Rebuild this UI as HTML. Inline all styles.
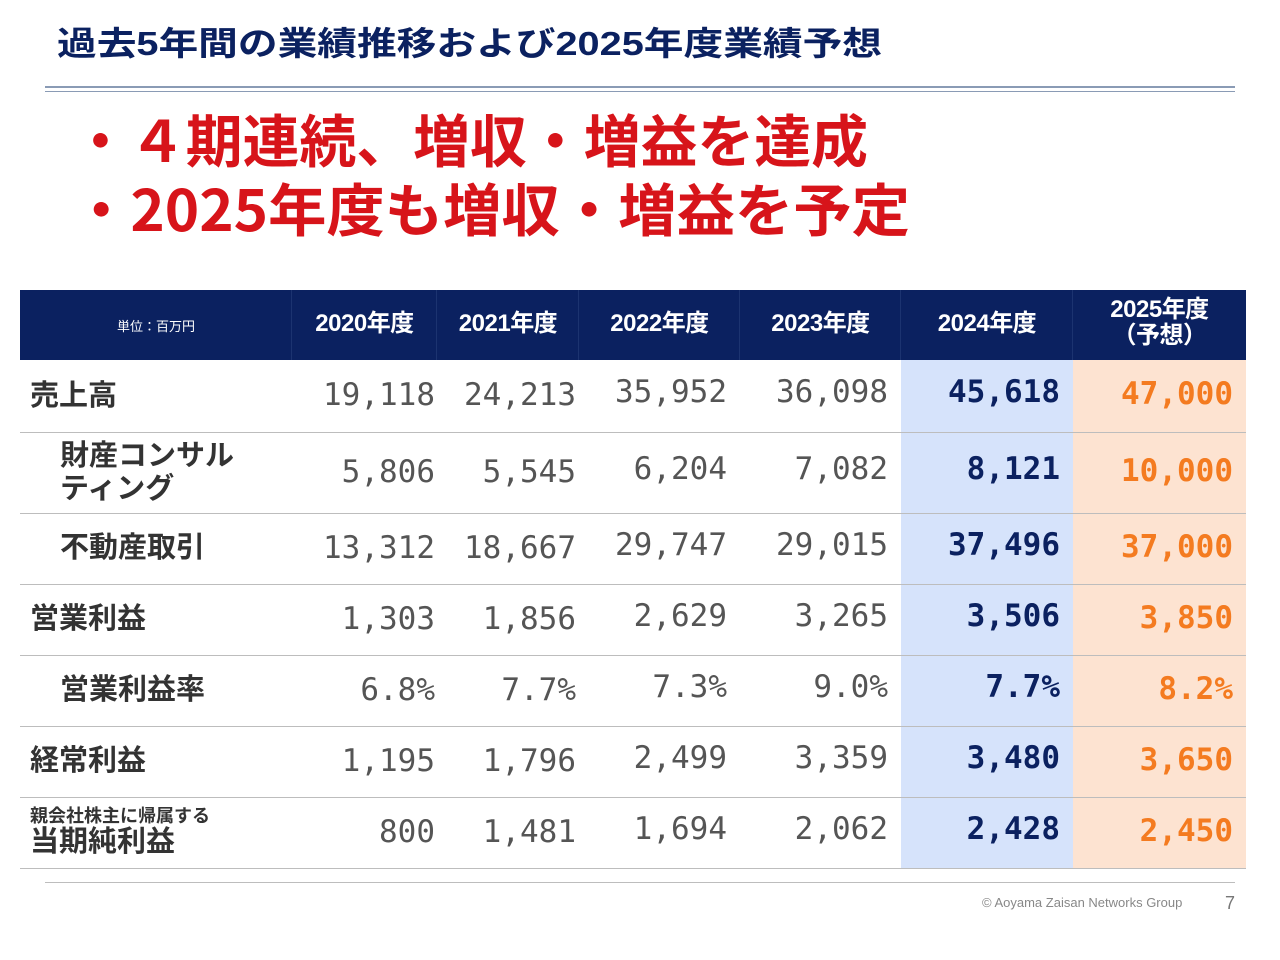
<!DOCTYPE html>
<html><head><meta charset="utf-8">
<style>
body{margin:0;width:1280px;height:960px;background:#fff;position:relative;overflow:hidden;font-family:"Liberation Sans","Noto Sans CJK JP",sans-serif}
.abs{position:absolute}
.hd{position:absolute;color:#fff;font-weight:bold;font-size:24px;text-align:center;line-height:26px;letter-spacing:-0.5px}
.lbl{position:absolute;font-size:29px;color:#333;font-weight:bold;line-height:33px}
.num{position:absolute;font-family:"DejaVu Sans Mono",monospace;font-size:31px;color:#555;text-align:right;width:150px}
.hl{position:absolute;left:20px;width:1226px;height:1px;background:#bdbdbd}
</style></head><body>
<svg class="abs" style="left:0;top:0" width="1280" height="260">
<text x="57" y="55" font-size="33" font-weight="bold" fill="#0b2160" textLength="825" lengthAdjust="spacingAndGlyphs" font-family="Liberation Sans, Noto Sans CJK JP, sans-serif">過去5年間の業績推移および2025年度業績予想</text>
<rect x="45" y="86" width="1190" height="2" fill="#8a9bb5"/>
<rect x="45" y="91" width="1190" height="1" fill="#8a9bb5"/>
<text x="72" y="162" font-size="57" font-weight="bold" fill="#d7141a" textLength="796" lengthAdjust="spacingAndGlyphs" font-family="Noto Sans CJK JP, sans-serif">・４期連続、増収・増益を達成</text>
<text x="72" y="231" font-size="57" font-weight="bold" fill="#d7141a" textLength="838" lengthAdjust="spacingAndGlyphs" font-family="Noto Sans CJK JP, sans-serif">・2025年度も増収・増益を予定</text>
</svg>
<div id="tbl"></div>
<div class="abs" style="left:45px;top:882px;width:1190px;height:1px;background:#bdbdbd"></div>
<div class="abs" style="left:982px;top:895px;font-size:13px;color:#888">© Aoyama Zaisan Networks Group</div>
<div class="abs" style="left:1225px;top:893px;font-size:18px;color:#777">7</div>
<script>
const years=["2020年度","2021年度","2022年度","2023年度","2024年度","2025年度<br>（予想）"];
const rowLabels=["売上高","財産コンサル<br>ティング","不動産取引","営業利益","営業利益率","経常利益","<span style='font-size:18px;line-height:20px;display:block'>親会社株主に帰属する</span>当期純利益"];
const indent=[false,true,true,false,true,false,false];
const v2020=["19,118","5,806","13,312","1,303","6.8%","1,195","800"];
const v2021=["24,213","5,545","18,667","1,856","7.7%","1,796","1,481"];
const v2022=["35,952","6,204","29,747","2,629","7.3%","2,499","1,694"];
const v2023=["36,098","7,082","29,015","3,265","9.0%","3,359","2,062"];
const v2024=["45,618","8,121","37,496","3,506","7.7%","3,480","2,428"];
const v2025=["47,000","10,000","37,000","3,850","8.2%","3,650","2,450"];
const series=[v2020,v2021,v2022,v2023,v2024,v2025];
const colX=[20,292,437,579,740,901,1073,1246];
const rowY=[360,432,513,584,655,726,797,868];
const numRight=[435,576,727,888,1060,1233];
const colOff=[1,1,-2,-2,-2,0];
const t=document.getElementById('tbl');
function add(cls,style,html){const d=document.createElement('div');d.className=cls;d.style.cssText=style;d.innerHTML=html;t.appendChild(d);return d;}
let h=add('abs','left:20px;top:290px;width:1226px;height:70px;background:#0b2160','');


let u=add('abs','left:20px;top:316px;width:272px;text-align:center;color:#fff;font-size:13px','単位：百万円');


for(let i=0;i<6;i++){
  let s=add('abs','left:'+(colX[i+1]-1)+'px;top:290px;width:1px;height:70px;background:#1c3370','');
  
  
}
years.forEach((y,i)=>{
  const two=i===5;
  let d=add('hd','left:'+colX[i+1]+'px;top:'+(two?297:311)+'px;width:'+(colX[i+2]-colX[i+1])+'px',y);
  
  
});
let b=add('abs','left:901px;top:360px;width:172px;height:508px;background:#d6e3fb','');


let o=add('abs','left:1073px;top:360px;width:173px;height:508px;background:#fde3d1','');


rowLabels.forEach((l,r)=>{
  const y0=rowY[r],y1=rowY[r+1],mid=(y0+y1)/2;
  const lines=l.includes('<br>')?2:(l.includes('span')?1.6:1);
  let d=add('lbl','left:'+(indent[r]?60:30)+'px;top:'+(mid-lines*16.5)+'px',l);
  
  
  let ln=add('hl','top:'+y1+'px','');
  
  
  series.forEach((s,c)=>{
    let st='left:'+(numRight[c]-150)+'px;top:'+(mid-20+colOff[c])+'px';
    if(c===4) st+=';color:#0b2160;font-weight:bold';
    if(c===5) st+=';color:#f47b20;font-weight:bold';
    let n=add('num',st,s[r]);
    
    
  });
});
</script>
</body></html>
